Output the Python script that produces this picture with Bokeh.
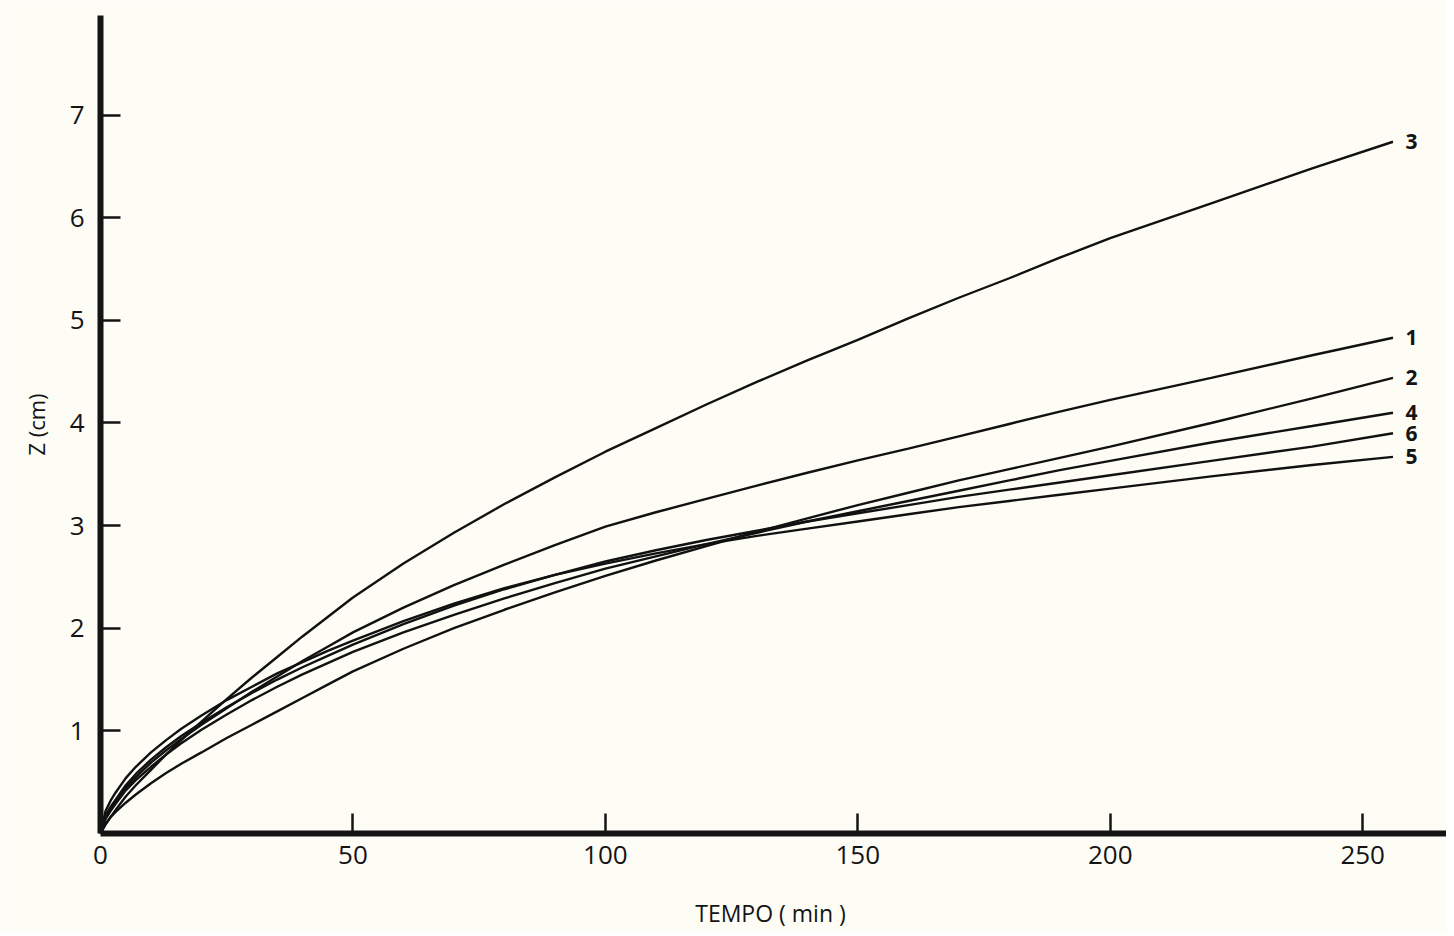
from bokeh.plotting import figure
from bokeh.models import Range1d, FixedTicker, ColumnDataSource
from bokeh.core.properties import value
from bokeh.embed import file_html
from bokeh.resources import INLINE

# time (min)
t = [0, 1, 2, 3, 5, 7, 10, 13, 16, 20, 25, 30, 35, 40, 45, 50, 60, 70, 80, 90,
     100, 110, 120, 130, 140, 150, 160, 170, 180, 190, 200, 220, 240, 256]

# infiltration depth Z (cm) for each curve
z1 = [0, 0.17, 0.25, 0.32, 0.45, 0.55, 0.69, 0.81, 0.92, 1.06, 1.22, 1.38, 1.53, 1.68, 1.82, 1.96,
      2.20, 2.42, 2.62, 2.81, 2.99, 3.13, 3.26, 3.39, 3.515, 3.635, 3.75, 3.87, 3.99, 4.11, 4.225,
      4.44, 4.66, 4.83]
z2 = [0, 0.09, 0.16, 0.21, 0.30, 0.38, 0.49, 0.59, 0.68, 0.79, 0.93, 1.06, 1.19, 1.32, 1.45, 1.58,
      1.80, 2.00, 2.18, 2.35, 2.51, 2.66, 2.80, 2.94, 3.07, 3.20, 3.32, 3.44, 3.55, 3.66, 3.77,
      4.00, 4.24, 4.44]
z3 = [0, 0.09, 0.16, 0.23, 0.36, 0.47, 0.62, 0.77, 0.91, 1.09, 1.31, 1.52, 1.72, 1.92, 2.11, 2.30,
      2.63, 2.93, 3.21, 3.47, 3.72, 3.95, 4.18, 4.40, 4.61, 4.81, 5.02, 5.22, 5.41, 5.61, 5.80,
      6.14, 6.48, 6.74]
z4 = [0, 0.14, 0.22, 0.29, 0.42, 0.52, 0.65, 0.77, 0.88, 1.01, 1.16, 1.30, 1.43, 1.55, 1.66, 1.77,
      1.96, 2.13, 2.29, 2.44, 2.58, 2.70, 2.82, 2.93, 3.04, 3.14, 3.24, 3.34, 3.44, 3.54, 3.63,
      3.81, 3.97, 4.10]
z5 = [0, 0.22, 0.32, 0.40, 0.54, 0.65, 0.79, 0.91, 1.02, 1.15, 1.30, 1.43, 1.56, 1.67, 1.78, 1.88,
      2.07, 2.24, 2.39, 2.52, 2.63, 2.73, 2.82, 2.90, 2.97, 3.04, 3.11, 3.18, 3.24, 3.30, 3.36,
      3.48, 3.59, 3.67]
z6 = [0, 0.17, 0.26, 0.33, 0.47, 0.58, 0.72, 0.84, 0.95, 1.08, 1.23, 1.37, 1.50, 1.62, 1.73, 1.84,
      2.04, 2.22, 2.38, 2.52, 2.65, 2.76, 2.86, 2.95, 3.04, 3.12, 3.20, 3.28, 3.35, 3.42, 3.49,
      3.63, 3.77, 3.90]

curve_names = ["1", "2", "3", "4", "5", "6"]
curves = [z1, z2, z3, z4, z5, z6]

x_ticks = [0, 50, 100, 150, 200, 250]
y_ticks = [1, 2, 3, 4, 5, 6, 7]

BG = "#fdfcf5"
INK = "#141414"
FONT = "Open Sans"

p = figure(width=1446, height=932, output_backend="svg", toolbar_location=None,
           x_range=Range1d(0, 266.6), y_range=Range1d(0, 7.97),
           min_border_left=100, min_border_top=15, min_border_bottom=99, min_border_right=0)
p.background_fill_color = BG
p.border_fill_color = BG
p.outline_line_color = None
p.xgrid.visible = False
p.ygrid.visible = False

for ax, ticks in ((p.xaxis[0], x_ticks), (p.yaxis[0], y_ticks)):
    ax.ticker = FixedTicker(ticks=ticks)
    ax.axis_line_width = 6
    ax.axis_line_color = INK
    ax.major_tick_in = 20
    ax.major_tick_out = 0
    ax.major_tick_line_width = 2.5
    ax.major_tick_line_color = INK
    ax.minor_tick_line_color = None
    ax.major_label_text_font = FONT
    ax.major_label_text_font_size = "26px"
    ax.major_label_text_color = INK
    ax.axis_label_text_font = FONT
    ax.axis_label_text_font_style = "normal"
    ax.axis_label_text_color = INK

p.xaxis.major_label_standoff = 12
p.yaxis.major_label_standoff = 16
p.xaxis.axis_label = "TEMPO  ( min )"
p.xaxis.axis_label_text_font_size = "23px"
p.xaxis.axis_label_standoff = 30
p.yaxis.axis_label = "Z (cm)"
p.yaxis.axis_label_text_font_size = "22px"
p.yaxis.axis_label_standoff = 16

for name, z in zip(curve_names, curves):
    p.line(t, z, line_color="#111111", line_width=2.4)

end_src = ColumnDataSource(dict(x=[t[-1] + 2.5] * len(curves),
                                y=[z[-1] for z in curves],
                                text=curve_names))
p.text(x="x", y="y", text="text", source=end_src, text_font=value(FONT),
       text_font_size="21px", text_baseline="middle", text_align="left",
       text_color=INK, text_font_style="bold")

open("out.html", "w").write(file_html(p, INLINE))
